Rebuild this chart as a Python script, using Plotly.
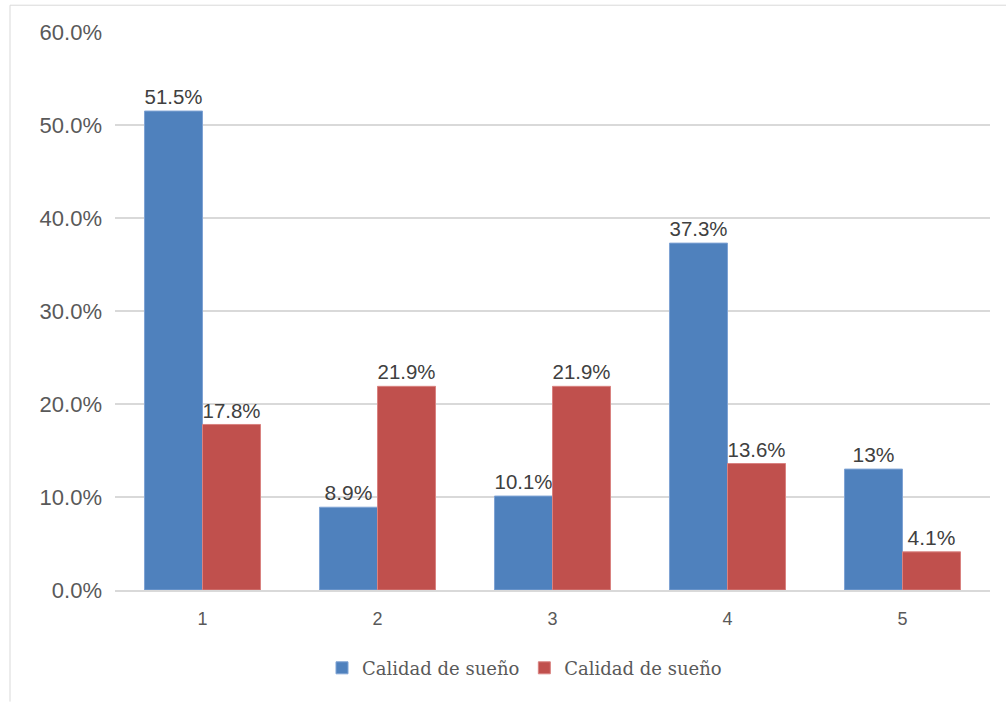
import plotly.graph_objects as go

categories = ["1", "2", "3", "4", "5"]
serie_a = [51.5, 8.9, 10.1, 37.3, 13.0]
serie_b = [17.8, 21.9, 21.9, 13.6, 4.1]
labels_a = ["51.5%", "8.9%", "10.1%", "37.3%", "13%"]
labels_b = ["17.8%", "21.9%", "21.9%", "13.6%", "4.1%"]
series_names = ["Calidad de sueño", "Calidad de sueño"]
y_ticks = [0, 10, 20, 30, 40, 50, 60]
y_ticktext = ["0.0%", "10.0%", "20.0%", "30.0%", "40.0%", "50.0%", "60.0%"]

BLUE = "#4F81BD"
RED = "#C0504D"
TXT = "#595959"
FONT = "Liberation Sans, Arial, sans-serif"

fig = go.Figure()
fig.add_trace(go.Bar(x=categories, y=serie_a, name=series_names[0], marker_color=BLUE,
                     marker_line=dict(color="#7FA3D4", width=1),
                     text=labels_a, textposition="outside", cliponaxis=False,
                     textfont=dict(size=21, color="#404040", family=FONT)))
fig.add_trace(go.Bar(x=categories, y=serie_b, name=series_names[1], marker_color=RED,
                     marker_line=dict(color="#D98280", width=1),
                     text=labels_b, textposition="outside", cliponaxis=False,
                     textfont=dict(size=21, color="#404040", family=FONT)))

fig.update_layout(
    width=1006, height=703,
    margin=dict(l=115, r=16, t=32, b=113),
    paper_bgcolor="white", plot_bgcolor="white",
    barmode="group", bargap=0.337, bargroupgap=0,
    font=dict(family=FONT, color=TXT),
    showlegend=True,
    legend=dict(orientation="h", x=0.468, xanchor="center", y=-0.14, yanchor="middle",
                font=dict(size=18, family="DejaVu Serif, serif", color=TXT),
                itemwidth=30, traceorder="normal"),
    uniformtext=dict(mode=False),
    shapes=[
        dict(type="line", xref="paper", yref="paper", x0=-0.12, x1=-0.12, y0=-0.2, y1=1.048,
             line=dict(color="#D9D9D9", width=1)),
        dict(type="line", xref="paper", yref="paper", x0=-0.12, x1=1.1, y0=1.048, y1=1.048,
             line=dict(color="#D9D9D9", width=1)),
    ],
)
fig.update_yaxes(range=[0, 60], tickvals=y_ticks, ticktext=y_ticktext,
                 showgrid=True, gridcolor="#D9D9D9", gridwidth=1.5,
                 zeroline=False, showline=False,
                 tickfont=dict(size=22, color=TXT, family=FONT), ticklabelstandoff=12)
fig.update_xaxes(showline=True, linecolor="#D9D9D9", linewidth=1.5,
                 tickfont=dict(size=18, color=TXT, family=FONT), ticklabelstandoff=12)

fig.write_html("out.html")
